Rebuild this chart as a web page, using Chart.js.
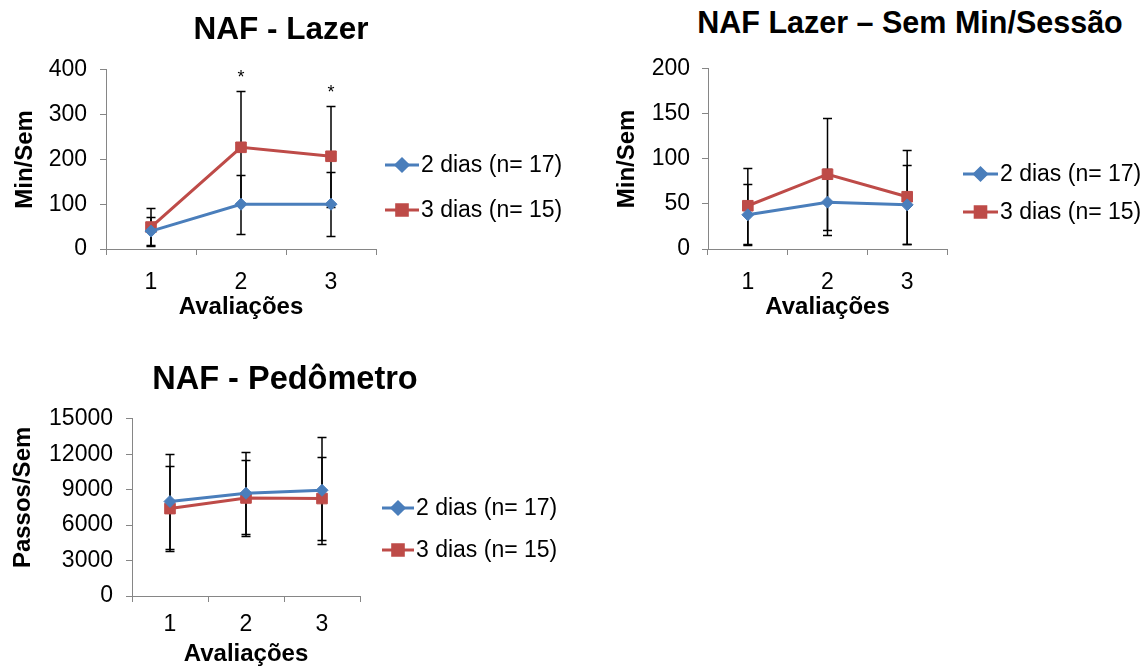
<!DOCTYPE html>
<html>
<head>
<meta charset="utf-8">
<script src="https://cdn.jsdelivr.net/npm/chart.js@4.4.1/dist/chart.umd.min.js"></script>
<style>
  html, body { margin: 0; padding: 0; background: #fff; }
  body { width: 1143px; height: 666px; overflow: hidden; position: relative;
         font-family: "Liberation Sans", Arial, sans-serif; }
  canvas { position: absolute; }
  .title { position: absolute; font-weight: bold; white-space: nowrap; color: #000;
           transform: translateX(-50%); }
</style>
</head>
<body>
<canvas id="lazer" width="570" height="280" style="left:0; top:43px;"></canvas>
<canvas id="sessao" width="543" height="280" style="left:600px; top:43px;"></canvas>
<canvas id="passos" width="570" height="280" style="left:0; top:392px;"></canvas>

<div class="title" style="left:281px; top:13px; font-size:31.5px; line-height:31.5px;">NAF - Lazer</div>
<div class="title" style="left:910px; top:7px; font-size:30.5px; line-height:30.5px;">NAF Lazer – Sem Min/Sessão</div>
<div class="title" style="left:285px; top:362px; font-size:32.5px; line-height:32.5px;">NAF - Pedômetro</div>

<script>
// Avaliações 1–3, média ± desvio padrão por grupo
const avaliacoes = ['1', '2', '3'];
const grupos = ['2 dias (n= 17)', '3 dias (n= 15)'];

// NAF - Lazer (min/sem)
const lazer2d = [40, 100, 100];
const lazer2dDp = [32, 66, 72];
const lazer3d = [49, 227, 207];
const lazer3dDp = [42, 125, 113];
const lazerSig = ['', '*', '*'];
const lazerTicks = [0, 100, 200, 300, 400];

// NAF Lazer – sem min/sessão (min/sem)
const sessao2d = [38, 52, 49];
const sessao2dDp = [34, 37, 44];
const sessao3d = [48, 83, 58];
const sessao3dDp = [42, 62, 52];
const sessaoTicks = [0, 50, 100, 150, 200];

// NAF - Pedômetro (passos/sem)
const passos2d = [8000, 8700, 8950];
const passos2dDp = [4000, 3450, 4550];
const passos3d = [7400, 8300, 8250];
const passos3dDp = [3600, 3200, 3500];
const passosTicks = [0, 3000, 6000, 9000, 12000, 15000];

const FONT = '"Liberation Sans", Arial, sans-serif';
const AXIS_GRAY = '#868686';
const BLUE = '#4A7EBB';
const RED = '#BE4B48';

Chart.defaults.font.family = FONT;
Chart.defaults.color = '#000';

// vertical error bars (±dp), drawn beneath lines and markers
const errorBars = {
  id: 'errorBars',
  beforeDatasetsDraw(chart) {
    const ctx = chart.ctx, y = chart.scales.y;
    ctx.save();
    ctx.strokeStyle = '#000';
    ctx.lineWidth = 1.5;
    chart.data.datasets.forEach((ds, di) => {
      const meta = chart.getDatasetMeta(di);
      ds.data.forEach((v, i) => {
        const e = ds.dp[i];
        const x = meta.data[i].x;
        const top = Math.round(y.getPixelForValue(v + e)) + 0.5;
        const bot = Math.round(y.getPixelForValue(v - e)) + 0.5;
        ctx.beginPath();
        ctx.moveTo(x, top); ctx.lineTo(x, bot);
        ctx.moveTo(x - 4.5, top); ctx.lineTo(x + 4.5, top);
        ctx.moveTo(x - 4.5, bot); ctx.lineTo(x + 4.5, bot);
        ctx.stroke();
      });
    });
    ctx.restore();
  }
};

// asterisks above the upper error bar of a series
const sigMarks = {
  id: 'sigMarks',
  afterDatasetsDraw(chart, args, opts) {
    if (!opts || !opts.marks) return;
    const ctx = chart.ctx, y = chart.scales.y;
    const ds = chart.data.datasets[opts.dataset];
    const meta = chart.getDatasetMeta(opts.dataset);
    ctx.save();
    ctx.fillStyle = '#000';
    ctx.font = '18px ' + FONT;
    ctx.textAlign = 'center';
    ctx.textBaseline = 'alphabetic';
    opts.marks.forEach((m, i) => {
      if (!m) return;
      const top = y.getPixelForValue(ds.data[i] + ds.dp[i]);
      ctx.fillText(m, meta.data[i].x, top - 8);
    });
    ctx.restore();
  }
};

// legend entries: short line with the series marker, then the label
const lineLegend = {
  id: 'lineLegend',
  afterDraw(chart, args, opts) {
    if (!opts || opts.x === undefined) return;
    const ctx = chart.ctx;
    ctx.save();
    chart.data.datasets.forEach((ds, i) => {
      const y = opts.y + i * opts.gap;
      ctx.strokeStyle = ds.borderColor;
      ctx.lineWidth = 3;
      ctx.beginPath();
      ctx.moveTo(opts.x, y); ctx.lineTo(opts.x + opts.len, y);
      ctx.stroke();
      ctx.fillStyle = ds.pointBackgroundColor;
      ctx.strokeStyle = ds.pointBorderColor;
      Chart.helpers.drawPoint(ctx, {
        pointStyle: ds.pointStyle, radius: ds.pointRadius, rotation: 0, borderWidth: 1
      }, opts.x + opts.len / 2, y);
      ctx.fillStyle = '#000';
      ctx.font = opts.fontSize + 'px ' + FONT;
      ctx.textAlign = 'left';
      ctx.textBaseline = 'middle';
      ctx.fillText(ds.label, opts.x + opts.len + 2, y + 1);
    });
    ctx.restore();
  }
};

function serie(label, data, dp, color, style, radius) {
  return {
    label, data, dp,
    borderColor: color, backgroundColor: color,
    pointBackgroundColor: color, pointBorderColor: color,
    pointStyle: style, pointRadius: radius, pointHoverRadius: radius,
    pointBorderWidth: 1, borderWidth: 3, tension: 0
  };
}

function painel(id, p) {
  new Chart(document.getElementById(id), {
    type: 'line',
    data: {
      labels: avaliacoes,
      datasets: [
        serie(grupos[0], p.s2, p.dp2, BLUE, 'rectRot', 6),
        serie(grupos[1], p.s3, p.dp3, RED, 'rect', 7.5)
      ]
    },
    options: {
      responsive: false,
      animation: false,
      devicePixelRatio: 1,
      layout: { padding: p.pad },
      plugins: {
        legend: { display: false },
        tooltip: { enabled: false },
        lineLegend: p.legend,
        sigMarks: p.sig || {}
      },
      scales: {
        x: {
          type: 'category',
          offset: true,
          afterFit: s => { s.height = p.xh; },
          grid: { offset: true, drawOnChartArea: false, drawTicks: true, tickLength: 6,
                  color: AXIS_GRAY, lineWidth: 1 },
          border: { color: AXIS_GRAY, width: 1 },
          ticks: { font: { size: 23 }, color: '#000', padding: p.xpad, maxRotation: 0 },
          title: { display: true, text: 'Avaliações', color: '#000',
                   font: { size: 24, weight: 'bold' }, padding: { top: 0, bottom: p.xtPad } }
        },
        y: {
          min: p.ticks[0], max: p.ticks[p.ticks.length - 1],
          afterBuildTicks: s => { s.ticks = p.ticks.map(v => ({ value: v })); },
          afterFit: s => { s.width = p.yw; },
          grid: { drawOnChartArea: false, drawTicks: true, tickLength: 6,
                  color: AXIS_GRAY, lineWidth: 1 },
          border: { color: AXIS_GRAY, width: 1 },
          ticks: { font: { size: 23 }, color: '#000', padding: p.ypad,
                   callback: v => String(v) },
          title: { display: true, text: p.ytitle, color: '#000',
                   font: { size: 24, weight: 'bold' }, padding: { top: p.ytPad, bottom: 0 } }
        }
      }
    },
    plugins: [errorBars, sigMarks, lineLegend]
  });
}

painel('lazer', {
  s2: lazer2d, dp2: lazer2dDp, s3: lazer3d, dp3: lazer3dDp, ticks: lazerTicks,
  ytitle: 'Min/Sem', pad: { left: 0, top: 12, right: 194, bottom: 0 },
  yw: 106, xh: 74, xpad: 14, ypad: 13, xtPad: 1, ytPad: 11,
  legend: { x: 385, y: 122, gap: 45, len: 34, fontSize: 23 },
  sig: { marks: lazerSig, dataset: 1 }
});

painel('sessao', {
  s2: sessao2d, dp2: sessao2dDp, s3: sessao3d, dp3: sessao3dDp, ticks: sessaoTicks,
  ytitle: 'Min/Sem', pad: { left: 0, top: 10, right: 196, bottom: 0 },
  yw: 108, xh: 74, xpad: 14, ypad: 12, xtPad: 1, ytPad: 13,
  legend: { x: 363, y: 131, gap: 38, len: 35, fontSize: 23 }
});

painel('passos', {
  s2: passos2d, dp2: passos2dDp, s3: passos3d, dp3: passos3dDp, ticks: passosTicks,
  ytitle: '   Passos/Sem', pad: { left: 0, top: 16, right: 210, bottom: 0 },
  yw: 132, xh: 76, xpad: 9, ypad: 13, xtPad: 3, ytPad: 9,
  legend: { x: 382, y: 116, gap: 42, len: 32, fontSize: 23 }
});
</script>
</body>
</html>
